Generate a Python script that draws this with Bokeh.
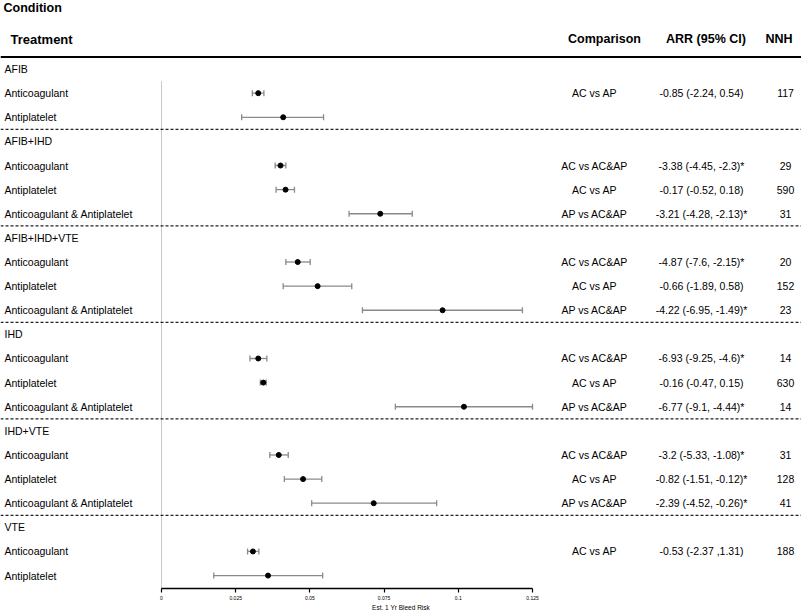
from bokeh.plotting import figure
from bokeh.models import (ColumnDataSource, Range1d, LinearAxis, FixedTicker,
                          Whisker, TeeHead, Span)
from bokeh.core.properties import value
from bokeh.embed import file_html
from bokeh.resources import INLINE

# ---------------- data ----------------
conditions = ["AFIB", "AFIB+IHD", "AFIB+IHD+VTE", "IHD", "IHD+VTE", "VTE"]
row_condition = ["AFIB", "AFIB",
                 "AFIB+IHD", "AFIB+IHD", "AFIB+IHD",
                 "AFIB+IHD+VTE", "AFIB+IHD+VTE", "AFIB+IHD+VTE",
                 "IHD", "IHD", "IHD",
                 "IHD+VTE", "IHD+VTE", "IHD+VTE",
                 "VTE", "VTE"]
treatments = ["Anticoagulant", "Antiplatelet",
              "Anticoagulant", "Antiplatelet", "Anticoagulant & Antiplatelet",
              "Anticoagulant", "Antiplatelet", "Anticoagulant & Antiplatelet",
              "Anticoagulant", "Antiplatelet", "Anticoagulant & Antiplatelet",
              "Anticoagulant", "Antiplatelet", "Anticoagulant & Antiplatelet",
              "Anticoagulant", "Antiplatelet"]
risk = [0.0326, 0.0410,
        0.0401, 0.0418, 0.0737,
        0.0459, 0.0526, 0.0947,
        0.0326, 0.0343, 0.1019,
        0.0395, 0.0477, 0.0715,
        0.0308, 0.0359]
risk_lo = [0.0306, 0.0270,
           0.0383, 0.0386, 0.0632,
           0.0419, 0.0410, 0.0677,
           0.0298, 0.0333, 0.0788,
           0.0365, 0.0414, 0.0506,
           0.0290, 0.0176]
risk_hi = [0.0345, 0.0546,
           0.0419, 0.0448, 0.0845,
           0.0501, 0.0641, 0.1216,
           0.0355, 0.0353, 0.1250,
           0.0427, 0.0540, 0.0927,
           0.0328, 0.0543]
comparison = ["AC vs AP", "",
              "AC vs AC&AP", "AC vs AP", "AP vs AC&AP",
              "AC vs AC&AP", "AC vs AP", "AP vs AC&AP",
              "AC vs AC&AP", "AC vs AP", "AP vs AC&AP",
              "AC vs AC&AP", "AC vs AP", "AP vs AC&AP",
              "AC vs AP", ""]
arr_ci = ["-0.85 (-2.24, 0.54)", "",
          "-3.38 (-4.45, -2.3)*", "-0.17 (-0.52, 0.18)", "-3.21 (-4.28, -2.13)*",
          "-4.87 (-7.6, -2.15)*", "-0.66 (-1.89, 0.58)", "-4.22 (-6.95, -1.49)*",
          "-6.93 (-9.25, -4.6)*", "-0.16 (-0.47, 0.15)", "-6.77 (-9.1, -4.44)*",
          "-3.2 (-5.33, -1.08)*", "-0.82 (-1.51, -0.12)*", "-2.39 (-4.52, -0.26)*",
          "-0.53 (-2.37 ,1.31)", ""]
nnh = ["117", "",
       "29", "590", "31",
       "20", "152", "23",
       "14", "630", "14",
       "31", "128", "41",
       "188", ""]
tick_values = [0, 0.025, 0.05, 0.075, 0.1, 0.125]
tick_labels = ["0", "0.025", "0.05", "0.075", "0.1", "0.125"]

# ---------------- layout (slot units) ----------------
header_slot = []
row_slot = [0] * len(treatments)
sep_slot = []
slot = 0
for ci, c in enumerate(conditions):
    header_slot.append(slot)
    slot += 1
    for i, rc in enumerate(row_condition):
        if rc == c:
            row_slot[i] = slot
            slot += 1
    if ci < len(conditions) - 1:
        sep_slot.append(slot - 0.5)
last_slot = slot - 1

W, H = 801, 613
BOTTOM = 21
frame_h = H - BOTTOM
first_px = 69.0
last_px = 579.0
s = (last_px - first_px) / last_slot
y_top = -first_px / s
y_bot = (frame_h - first_px) / s

def yd(px):  # figure pixel (from top) -> slot units
    return (px - first_px) / s

X0_PX, PX_PER_UNIT = 161.0, 2968.0
def xd(px):  # figure pixel -> data
    return (px - X0_PX) / PX_PER_UNIT

p = figure(width=W, height=H, output_backend="svg", toolbar_location=None,
           x_range=Range1d(xd(0), xd(W)), y_range=Range1d(y_bot, y_top),
           x_axis_location=None, y_axis_location=None,
           min_border_left=0, min_border_right=0, min_border_top=0,
           min_border_bottom=BOTTOM)
p.outline_line_color = None
p.xgrid.visible = False
p.ygrid.visible = False
p.background_fill_color = "white"
p.border_fill_color = "white"

FONT = value("Liberation Sans")

# x axis
ax = LinearAxis(bounds=(tick_values[0], tick_values[-1]),
                ticker=FixedTicker(ticks=tick_values),
                major_label_overrides={v: l for v, l in zip(tick_values, tick_labels)},
                axis_label="Est. 1 Yr Bleed Risk")
ax.axis_line_color = "black"
ax.axis_line_width = 1.6
ax.major_tick_line_color = "black"
ax.major_tick_line_width = 1.2
ax.major_tick_out = 4
ax.major_tick_in = 0
ax.minor_tick_line_color = None
ax.major_label_text_font = "Liberation Sans"
ax.major_label_text_font_size = "5px"
ax.major_label_text_color = "black"
ax.major_label_standoff = 3
ax.axis_label_text_font = "Liberation Sans"
ax.axis_label_text_font_size = "6.5px"
ax.axis_label_text_font_style = "normal"
ax.axis_label_text_color = "black"
ax.axis_label_standoff = 1
p.add_layout(ax, "below")

# grey reference line at 0
p.segment(x0=[0], y0=[0.5], x1=[0], y1=[y_bot], line_color="#c8c8c8", line_width=1)

# header line and group separators
p.add_layout(Span(location=yd(57), dimension="width", line_color="black", line_width=2))
for sp in sep_slot:
    p.add_layout(Span(location=sp, dimension="width", line_color="#222222",
                      line_width=1.2, line_dash="3 2"))

src = ColumnDataSource(dict(y=row_slot, risk=risk, lo=risk_lo, hi=risk_hi,
                            trt=treatments, comp=comparison, arr=arr_ci, nnh=nnh))

# error bars
wh = Whisker(source=src, base="y", lower="lo", upper="hi", dimension="width",
             line_color="#8a8a8a", line_width=1.3,
             upper_head=TeeHead(size=6, line_color="#8a8a8a", line_width=1.3),
             lower_head=TeeHead(size=6, line_color="#8a8a8a", line_width=1.3))
p.add_layout(wh)
p.scatter(x="risk", y="y", source=src, size=5, color="black")

# row text
TS = value("10.5px")
p.text(x=xd(4), y="y", text="trt", source=src, text_font=FONT,
       text_font_size=TS, text_baseline="middle", text_align="left",
       text_color="black")
p.text(x=xd(594), y="y", text="comp", source=src, text_font=FONT,
       text_font_size=TS, text_baseline="middle", text_align="center",
       text_color="black")
p.text(x=xd(701), y="y", text="arr", source=src, text_font=FONT,
       text_font_size=TS, text_baseline="middle", text_align="center",
       text_color="black")
p.text(x=xd(785), y="y", text="nnh", source=src, text_font=FONT,
       text_font_size=TS, text_baseline="middle", text_align="center",
       text_color="black")

# condition headers
p.text(x=[xd(4)] * len(conditions), y=header_slot, text=conditions, text_font=FONT,
       text_font_size=TS, text_baseline="middle", text_align="left",
       text_color="black")

# column headers
p.text(x=[xd(3)], y=[yd(8)], text=["Condition"], text_font=FONT,
       text_font_size=value("12.5px"), text_font_style="bold",
       text_baseline="middle", text_align="left", text_color="black")
p.text(x=[xd(10)], y=[yd(39)], text=["Treatment"], text_font=FONT,
       text_font_size=value("13px"), text_font_style="bold",
       text_baseline="middle", text_align="left", text_color="black")
p.text(x=[xd(604), xd(705.5), xd(778.5)], y=[yd(39)] * 3,
       text=["Comparison", "ARR (95% CI)", "NNH"], text_font=FONT,
       text_font_size=value("12.5px"), text_font_style="bold",
       text_baseline="middle", text_align="center", text_color="black")

open("out.html", "w").write(file_html(p, INLINE))
